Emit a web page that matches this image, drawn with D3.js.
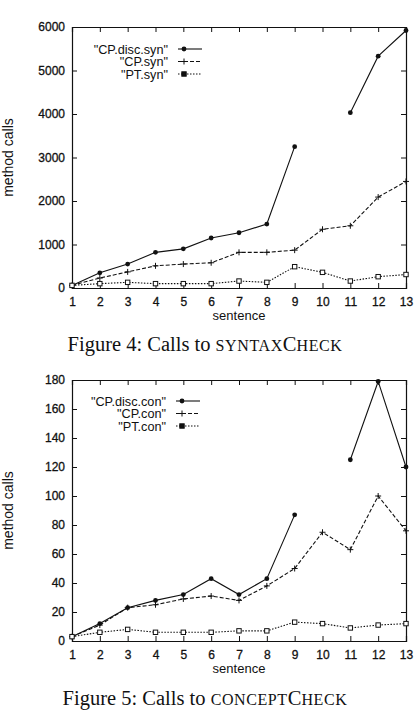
<!DOCTYPE html>
<html>
<head>
<meta charset="utf-8">
<script src="https://cdn.jsdelivr.net/npm/d3@7"></script>
<style>
  body { margin: 0; background: #fff; }
  text { font-family: "Liberation Sans", Arial, sans-serif; fill: #111; }
  .caption { font-family: "Liberation Serif", "Times New Roman", serif; font-size: 20.5px; }
</style>
</head>
<body>
<div id="canvas"></div>
<script>
// sentence numbers on the x axis
const sentences = [1, 2, 3, 4, 5, 6, 7, 8, 9, 10, 11, 12, 13]

// figure 4, calls to syntaxCheck (null = no value for sentence 10)
const discSyn = [60, 350, 550, 820, 900, 1150, 1270, 1470, 3250, null, 4030, 5330, 5920]
const cpSyn = [60, 230, 370, 510, 550, 580, 820, 820, 870, 1350, 1430, 2090, 2450]
const ptSyn = [60, 100, 130, 100, 100, 100, 160, 130, 490, 360, 160, 260, 310]
const synTicks = [0, 1000, 2000, 3000, 4000, 5000, 6000]
const synNames = ['"CP.disc.syn"', '"CP.syn"', '"PT.syn"']

// figure 5, calls to conceptCheck
const discCon = [3, 12, 23, 28, 32, 43, 32, 43, 87, null, 125, 179, 120]
const cpCon = [3, 11, 23, 25, 29, 31, 28, 38, 50, 75, 63, 100, 76]
const ptCon = [3, 6, 8, 6, 6, 6, 7, 7, 13, 12, 9, 11, 12]
const conTicks = [0, 20, 40, 60, 80, 100, 120, 140, 160, 180]
const conNames = ['"CP.disc.con"', '"CP.con"', '"PT.con"']

let svg = {}

window.onload = function () { setup() }

function setup() {
  svg = d3.select("#canvas")
    .append("svg")
    .attr("width", 416)
    .attr("height", 712)

  drawChart({
    top: 27, bottom: 288, max: 6000, ticks: synTicks,
    series: [discSyn, cpSyn, ptSyn], names: synNames,
    legendY: 49, legendRight: 168,
    caption: ["Figure 4: Calls to ", "SYNTAX", "C", "HECK"], captionY: 351
  })

  drawChart({
    top: 380, bottom: 641, max: 180, ticks: conTicks,
    series: [discCon, cpCon, ptCon], names: conNames,
    legendY: 401, legendRight: 166,
    caption: ["Figure 5: Calls to ", "CONCEPT", "C", "HECK"], captionY: 705
  })
}

const styles = [
  { dash: null, marker: "circle" },
  { dash: "4,2", marker: "plus" },
  { dash: "1.5,1.5", marker: "square" }
]

function drawMarker(g, kind, x, y, legend) {
  if (kind == "circle") {
    g.append("circle").attr("cx", x).attr("cy", y).attr("r", 2.4).attr("fill", "#111")
  } else if (kind == "plus") {
    g.append("path")
      .attr("d", `M${x - 3},${y}H${x + 3}M${x},${y - 3}V${y + 3}`)
      .attr("stroke", "#111").attr("stroke-width", 1)
  } else {
    g.append("rect").attr("x", x - 2.2).attr("y", y - 2.2).attr("width", 4.4).attr("height", 4.4)
      .attr("fill", legend ? "#111" : "#fff")
      .attr("stroke", "#111").attr("stroke-width", 1)
  }
}

function drawChart(c) {
  const left = 72, right = 406
  const x = d3.scaleLinear().domain([1, 13]).range([left, right])
  const y = d3.scaleLinear().domain([0, c.max]).range([c.bottom, c.top])
  const g = svg.append("g")

  // axes with inward ticks, mirrored like gnuplot
  g.append("g")
    .attr("transform", `translate(0,${c.bottom})`)
    .call(d3.axisBottom(x).tickValues(sentences).tickSize(-5).tickPadding(9))
  g.append("g")
    .attr("transform", `translate(0,${c.top})`)
    .call(d3.axisTop(x).tickValues(sentences).tickSize(-5).tickFormat(""))
  g.append("g")
    .attr("transform", `translate(${left},0)`)
    .call(d3.axisLeft(y).tickValues(c.ticks).tickSize(-5).tickPadding(7).tickFormat(d3.format("d")))
  g.append("g")
    .attr("transform", `translate(${right},0)`)
    .call(d3.axisRight(y).tickValues(c.ticks).tickSize(-5).tickFormat(""))

  g.selectAll(".domain").attr("stroke", "#111").attr("stroke-width", 1.2)
  g.selectAll(".tick line").attr("stroke", "#111")
  g.selectAll(".tick text")
    .attr("font-family", "'Liberation Sans', Arial, sans-serif")
    .attr("font-size", 12).attr("fill", "#111")
    .attr("stroke", "#111").attr("stroke-width", 0.3)

  g.append("text")
    .attr("x", (left + right) / 2).attr("y", c.bottom + 32)
    .attr("text-anchor", "middle").attr("font-size", 13)
    .text("sentence")

  g.append("text")
    .attr("transform", `translate(13,${(c.top + c.bottom) / 2}) rotate(-90)`)
    .attr("text-anchor", "middle").attr("font-size", 14)
    .text("method calls")

  // series
  c.series.forEach((values, i) => {
    const st = styles[i]
    const line = d3.line()
      .defined(d => d != null)
      .x((d, j) => x(sentences[j]))
      .y(d => y(d))
    g.append("path")
      .attr("d", line(values))
      .attr("fill", "none")
      .attr("stroke", "#111")
      .attr("stroke-width", 1.1)
      .attr("stroke-dasharray", st.dash)
    values.forEach((v, j) => {
      if (v != null) drawMarker(g, st.marker, x(sentences[j]), y(v), false)
    })

    // legend row
    const ly = c.legendY + i * 12.5
    g.append("text")
      .attr("x", c.legendRight).attr("y", ly + 4.5)
      .attr("text-anchor", "end").attr("font-size", 12.7)
      .text(c.names[i])
    g.append("line")
      .attr("x1", c.legendRight + 10).attr("x2", c.legendRight + 34)
      .attr("y1", ly).attr("y2", ly)
      .attr("stroke", "#111").attr("stroke-width", 1.1)
      .attr("stroke-dasharray", st.dash)
    drawMarker(g, st.marker, c.legendRight + 16, ly, true)
  })

  // caption with hand made small caps
  const cap = svg.append("text")
    .attr("class", "caption")
    .attr("x", 205).attr("y", c.captionY)
    .attr("text-anchor", "middle")
  cap.append("tspan").text(c.caption[0])
  cap.append("tspan").attr("font-size", 16).attr("letter-spacing", 0.6).text(c.caption[1])
  cap.append("tspan").text(c.caption[2])
  cap.append("tspan").attr("font-size", 16).attr("letter-spacing", 0.6).text(c.caption[3])
}
</script>
</body>
</html>
